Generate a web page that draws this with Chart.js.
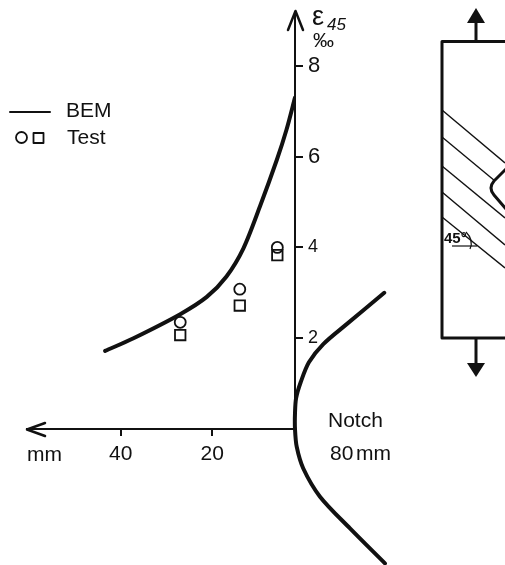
<!DOCTYPE html>
<html>
<head>
<meta charset="utf-8">
<style>
  html, body { margin: 0; padding: 0; background: #fff; }
  canvas { display: block; }
</style>
<script src="https://cdn.jsdelivr.net/npm/chart.js@4"></script>
</head>
<body>
<canvas id="chart" width="505" height="565"></canvas>
<script>
const xTicks = [20, 40];
const yTicks = [2, 4, 6, 8];

const bemMm = [43.4, 37.2, 27.0, 21.2, 16.9, 13.2, 9.6, 5.9, 3.8, 1.94];
const bemStrain = [1.72, 2.0, 2.53, 2.91, 3.36, 3.98, 4.9, 5.93, 6.59, 7.3];

const testMm = [27, 14, 5.8];
const testCircle = [2.35, 3.08, 4.0];
const testSquare = [2.07, 2.72, 3.83];

const notchMm = [-17.55, -9.35, -4.24, -1.1, 0.7, 1.7, 1.94, 1.94, 1.57, 0.13, -3.52, -10.07, -17.7];
const notchY = [3.0, 2.31, 1.87, 1.47, 1.03, 0.68, 0.35, 0, -0.39, -0.87, -1.49, -2.19, -2.96];

const INK = "#111";
const FONT = '"Liberation Sans"';

function zip(xs, ys) {
  return xs.map((x, i) => ({ x: x, y: ys[i] }));
}

function text(ctx, str, x, y, size, style) {
  ctx.font = `${style || ""} ${size}px ${FONT}`;
  ctx.fillText(str, x, y);
}

function line(ctx, pts, width) {
  ctx.lineWidth = width;
  ctx.beginPath();
  pts.forEach((p, i) => (i ? ctx.lineTo(p[0], p[1]) : ctx.moveTo(p[0], p[1])));
  ctx.stroke();
}

function triangle(ctx, x, base, tip) {
  ctx.beginPath();
  ctx.moveTo(x - 9, base);
  ctx.lineTo(x + 9, base);
  ctx.lineTo(x, tip);
  ctx.closePath();
  ctx.fill();
}

// axis arrows, legend and the text next to the plot
const annotations = {
  id: "annotations",
  afterDraw(chart) {
    const ctx = chart.ctx;
    const area = chart.chartArea;
    ctx.save();
    ctx.strokeStyle = INK;
    ctx.fillStyle = INK;
    ctx.lineCap = "round";
    ctx.lineJoin = "round";
    ctx.textBaseline = "alphabetic";

    line(ctx, [[area.right - 7, area.top + 18], [area.right + 0.5, area.top - 1], [area.right + 8, area.top + 18]], 2.5);
    line(ctx, [[area.left + 18, area.bottom - 6], [area.left, area.bottom + 0.5], [area.left + 18, area.bottom + 7]], 2.5);

    text(ctx, "ε", 312, 25, 27);
    text(ctx, "45", 327, 30, 17, "italic");
    text(ctx, "‰", 313, 47, 21);

    text(ctx, "mm", 27, 461, 21);
    text(ctx, "Notch", 328, 427, 21);
    text(ctx, "80", 330, 460, 21);
    text(ctx, "mm", 356, 460, 21);

    line(ctx, [[10, 112], [50, 112]], 2);
    text(ctx, "BEM", 66, 117, 21);
    text(ctx, "Test", 67, 144, 21);
    ctx.lineWidth = 1.8;
    ctx.beginPath();
    ctx.arc(21.5, 137.5, 5.5, 0, Math.PI * 2);
    ctx.stroke();
    ctx.strokeRect(33.5, 133, 10, 10);

    drawSpecimen(ctx);
    ctx.restore();
  },
};

// the loaded plate on the right, a schematic and not part of the data
function drawSpecimen(ctx) {
  ctx.lineCap = "butt";
  line(ctx, [[520, 41.5], [442, 41.5], [442, 338], [520, 338]], 3);
  line(ctx, [[476, 41], [476, 22]], 3);
  line(ctx, [[476, 338], [476, 364]], 3);
  triangle(ctx, 476, 23, 8);
  triangle(ctx, 476, 363, 377);

  line(ctx, [[442, 110], [505, 163]], 1.4);
  line(ctx, [[442, 137], [495, 181]], 1.4);
  line(ctx, [[442, 166], [505, 218]], 1.4);
  line(ctx, [[442, 192], [505, 245]], 1.4);
  line(ctx, [[442, 217], [505, 268]], 1.4);

  ctx.lineWidth = 3;
  ctx.beginPath();
  ctx.moveTo(506, 169);
  ctx.lineTo(494, 181);
  ctx.quadraticCurveTo(488, 188, 494, 195);
  ctx.lineTo(506, 209);
  ctx.stroke();

  text(ctx, "45°", 444, 243, 15, "bold");
  line(ctx, [[452, 246], [477, 246]], 1.2);
  ctx.lineWidth = 1.2;
  ctx.beginPath();
  ctx.moveTo(466, 232);
  ctx.quadraticCurveTo(474, 240, 470, 249);
  ctx.stroke();
}

new Chart(document.getElementById("chart"), {
  type: "scatter",
  data: {
    datasets: [
      {
        type: "line",
        label: "BEM",
        data: zip(bemMm, bemStrain),
        borderColor: INK,
        borderWidth: 4,
        borderCapStyle: "round",
        pointRadius: 0,
        tension: 0.3,
        fill: false,
      },
      {
        type: "line",
        label: "Notch",
        data: zip(notchMm, notchY),
        borderColor: INK,
        borderWidth: 4,
        borderCapStyle: "round",
        pointRadius: 0,
        tension: 0.3,
        fill: false,
        clip: false,
        capBezierPoints: false,
      },
      {
        label: "Test",
        data: zip(testMm, testCircle),
        pointStyle: "circle",
        pointRadius: 5.5,
        pointBorderWidth: 1.8,
        pointBorderColor: INK,
        pointBackgroundColor: "transparent",
      },
      {
        label: "Test",
        data: zip(testMm, testSquare),
        pointStyle: "rect",
        pointRadius: 7.4,
        pointBorderWidth: 1.8,
        pointBorderColor: INK,
        pointBackgroundColor: "transparent",
      },
    ],
  },
  options: {
    responsive: false,
    animation: false,
    devicePixelRatio: 1,
    layout: { padding: { left: 27, top: 12, right: 0, bottom: 0 } },
    plugins: { legend: { display: false }, tooltip: { enabled: false } },
    scales: {
      x: {
        type: "linear",
        reverse: true,
        min: 1.94,
        max: 60.46,
        afterBuildTicks: (scale) => { scale.ticks = xTicks.map((v) => ({ value: v })); },
        afterFit: (scale) => {
          scale.height = 136;
          scale.paddingLeft = 0;
          scale.paddingRight = 0;
        },
        border: { color: INK, width: 2 },
        grid: { drawOnChartArea: false, color: INK, lineWidth: 2, tickLength: 7 },
        ticks: { color: INK, padding: 6, maxRotation: 0, font: { family: FONT, size: 21 } },
      },
      y: {
        type: "linear",
        position: "right",
        min: 0,
        max: 9.185,
        afterBuildTicks: (scale) => { scale.ticks = yTicks.map((v) => ({ value: v })); },
        afterFit: (scale) => {
          scale.width = 210;
          scale.paddingTop = 0;
          scale.paddingBottom = 0;
        },
        border: { color: INK, width: 2 },
        grid: { drawOnChartArea: false, color: INK, lineWidth: 2, tickLength: 8 },
        ticks: { color: INK, padding: 5, font: (c) => ({ family: FONT, size: c.tick && c.tick.value >= 6 ? 22 : 18 }) },
      },
    },
  },
  plugins: [annotations],
});
</script>
</body>
</html>
